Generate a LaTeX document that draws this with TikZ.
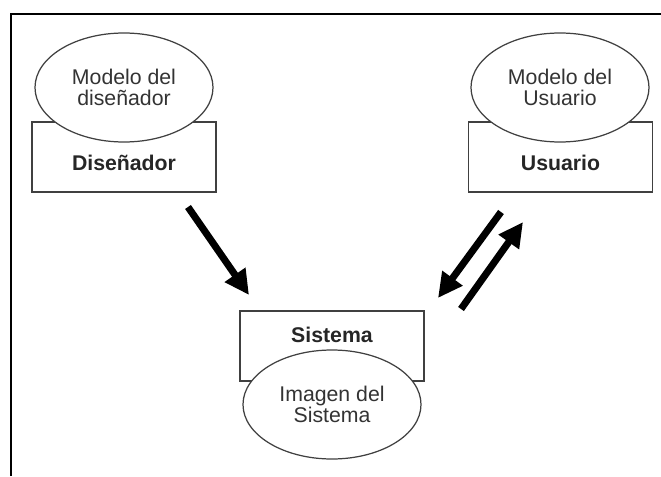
\documentclass[tikz,border=0pt]{standalone}
\usepackage{fontspec}
\setmainfont{Liberation Sans}
\usepackage{tikz}
\usetikzlibrary{shapes.geometric,arrows.meta}

\begin{document}
\begin{tikzpicture}[
  modelo/.style={ellipse,draw=black!75,fill=white,line width=0.7pt,
    minimum width=3.56cm,minimum height=2.18cm,inner sep=0pt,align=center,
    text=black!80,font=\fontsize{12.1}{12.2}\selectfont},
  caja/.style={rectangle,draw=black!75,line width=0.7pt,
    minimum width=3.68cm,minimum height=1.4cm},
  rotulo/.style={text=black!85,font=\fontsize{12.1}{12.2}\selectfont\bfseries},
  flecha/.style={line width=4pt,-{Triangle[length=14pt,width=13.5pt]}}
]
\useasboundingbox (0,0) rectangle (13.22,9.52);
\draw [line width=1.4pt] (0.22,0) -- (0.22,9.24) -- (13.22,9.24);

\node[caja] (disenador) at (2.48,6.38) {};
\node[rotulo] (disenador-t) at (2.48,6.26) {Diseñador};
\node[modelo] (mdisenador) at (2.48,7.77) {\raisebox{-3pt}{\shortstack{Modelo del\\diseñador}}};

\node[caja] (usuario) at (11.21,6.38) {};
\node[rotulo] (usuario-t) at (11.21,6.26) {Usuario};
\node[modelo] (musuario) at (11.2,7.77) {\raisebox{-3pt}{\shortstack{Modelo del\\Usuario}}};

\node[caja] (sistema) at (6.64,2.6) {};
\node[rotulo] (sistema-t) at (6.64,2.82) {Sistema};
\node[modelo] (imagen) at (6.64,1.43) {Imagen del\\Sistema};

\coordinate (d0) at (3.76,5.38);
\coordinate (d1) at (4.98,3.62);
\coordinate (u0) at (10.02,5.28);
\coordinate (u1) at (8.76,3.56);
\coordinate (s0) at (9.22,3.34);
\coordinate (s1) at (10.46,5.08);

\draw [flecha] (d0) -- (d1);
\draw [flecha] (u0) -- (u1);
\draw [flecha] (s0) -- (s1);
\end{tikzpicture}
\end{document}
